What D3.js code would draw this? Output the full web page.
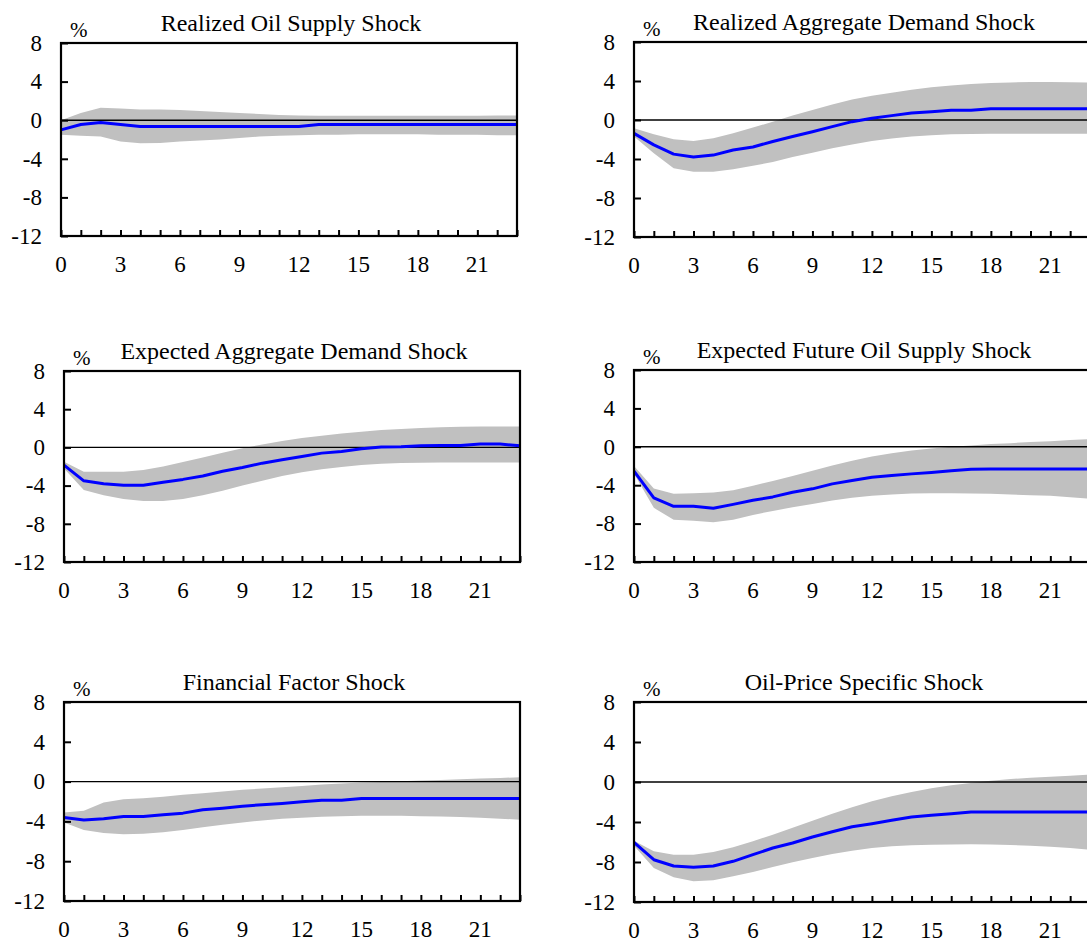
<!DOCTYPE html>
<html>
<head>
<meta charset="utf-8">
<script src="https://cdn.jsdelivr.net/npm/d3@7"></script>
<style>
  html, body { margin: 0; padding: 0; background: #fff; }
  svg { display: block; }
  text { font-family: "Liberation Serif", "Times New Roman", serif; fill: #000; }
</style>
</head>
<body>
<svg id="chart" width="1087" height="945"></svg>
<script>
// ---------- data ----------
const horizons = [0,1,2,3,4,5,6,7,8,9,10,11,12,13,14,15,16,17,18,19,20,21,22,23];
const xTickLabels = [0,3,6,9,12,15,18,21];
const yTickLabels = [8,4,0,-4,-8,-12];
const titles = [
  "Realized Oil Supply Shock",
  "Realized Aggregate Demand Shock",
  "Expected Aggregate Demand Shock",
  "Expected Future Oil Supply Shock",
  "Financial Factor Shock",
  "Oil-Price Specific Shock"
];

const oilSupplyIrf = [-1.0,-0.45,-0.25,-0.45,-0.65,-0.65,-0.65,-0.65,-0.65,-0.65,-0.65,-0.65,-0.65,-0.45,-0.45,-0.45,-0.45,-0.45,-0.45,-0.45,-0.45,-0.45,-0.45,-0.45];
const oilSupplyHi  = [0.0,0.75,1.3,1.2,1.1,1.1,1.05,0.95,0.85,0.75,0.65,0.55,0.5,0.47,0.45,0.45,0.45,0.45,0.45,0.45,0.45,0.47,0.5,0.5];
const oilSupplyLo  = [-1.5,-1.6,-1.7,-2.2,-2.4,-2.35,-2.2,-2.1,-2.0,-1.85,-1.7,-1.6,-1.55,-1.5,-1.5,-1.45,-1.45,-1.45,-1.45,-1.5,-1.5,-1.5,-1.55,-1.55];

const realDemandIrf = [-1.37,-2.55,-3.5,-3.8,-3.6,-3.07,-2.77,-2.2,-1.7,-1.2,-0.68,-0.17,0.17,0.45,0.72,0.85,1.0,1.0,1.15,1.15,1.15,1.15,1.15,1.15];
const realDemandHi  = [-0.85,-1.47,-1.98,-2.15,-1.88,-1.37,-0.78,-0.17,0.45,1.03,1.6,2.1,2.5,2.8,3.1,3.35,3.55,3.7,3.8,3.85,3.9,3.9,3.88,3.85];
const realDemandLo  = [-1.7,-3.4,-4.95,-5.3,-5.3,-5.05,-4.7,-4.3,-3.8,-3.35,-2.9,-2.5,-2.15,-1.9,-1.7,-1.57,-1.47,-1.43,-1.4,-1.4,-1.4,-1.4,-1.4,-1.4];

const expDemandIrf = [-1.85,-3.5,-3.8,-3.97,-3.97,-3.65,-3.35,-3.0,-2.5,-2.1,-1.65,-1.3,-0.95,-0.6,-0.42,-0.14,0.03,0.07,0.17,0.2,0.2,0.35,0.35,0.17];
const expDemandHi  = [-1.5,-2.55,-2.55,-2.55,-2.37,-2.0,-1.53,-1.05,-0.56,-0.1,0.31,0.66,0.98,1.22,1.46,1.64,1.81,1.92,2.02,2.1,2.16,2.2,2.2,2.2];
const expDemandLo  = [-2.2,-4.46,-5.0,-5.4,-5.6,-5.6,-5.4,-5.0,-4.53,-4.0,-3.48,-3.0,-2.61,-2.3,-2.05,-1.85,-1.7,-1.64,-1.6,-1.57,-1.57,-1.57,-1.57,-1.57];

const expSupplyIrf = [-2.54,-5.32,-6.2,-6.2,-6.4,-6.0,-5.57,-5.22,-4.73,-4.38,-3.86,-3.5,-3.17,-3.0,-2.82,-2.68,-2.5,-2.33,-2.3,-2.3,-2.3,-2.3,-2.3,-2.3];
const expSupplyHi  = [-2.0,-4.35,-4.9,-4.83,-4.76,-4.52,-4.07,-3.55,-3.03,-2.5,-1.95,-1.46,-1.0,-0.66,-0.38,-0.17,0.0,0.14,0.28,0.38,0.49,0.59,0.7,0.8];
const expSupplyLo  = [-2.8,-6.36,-7.6,-7.7,-7.86,-7.6,-7.1,-6.68,-6.3,-5.95,-5.6,-5.32,-5.11,-4.97,-4.87,-4.83,-4.83,-4.87,-4.9,-4.97,-5.04,-5.11,-5.25,-5.4];

const financialIrf = [-3.6,-3.87,-3.73,-3.5,-3.5,-3.33,-3.17,-2.83,-2.67,-2.47,-2.33,-2.2,-2.03,-1.87,-1.87,-1.7,-1.7,-1.7,-1.7,-1.7,-1.7,-1.7,-1.7,-1.7];
const financialHi  = [-3.1,-2.93,-2.1,-1.77,-1.67,-1.53,-1.33,-1.17,-1.0,-0.83,-0.7,-0.57,-0.43,-0.3,-0.2,-0.1,-0.03,0.03,0.1,0.17,0.23,0.3,0.37,0.43];
const financialLo  = [-4.1,-4.87,-5.17,-5.3,-5.23,-5.1,-4.87,-4.6,-4.33,-4.1,-3.9,-3.73,-3.63,-3.53,-3.47,-3.43,-3.43,-3.43,-3.47,-3.5,-3.57,-3.63,-3.73,-3.83];

const oilPriceIrf = [-6.03,-7.77,-8.4,-8.53,-8.4,-7.93,-7.27,-6.6,-6.1,-5.5,-4.97,-4.47,-4.17,-3.83,-3.5,-3.33,-3.17,-3.0,-3.0,-3.0,-3.0,-3.0,-3.0,-3.0];
const oilPriceHi  = [-5.87,-6.93,-7.27,-7.27,-7.0,-6.53,-5.93,-5.27,-4.57,-3.87,-3.17,-2.53,-1.93,-1.43,-1.0,-0.63,-0.33,-0.1,0.13,0.3,0.43,0.53,0.63,0.73];
const oilPriceLo  = [-6.37,-8.6,-9.53,-9.93,-9.83,-9.43,-9.0,-8.5,-8.03,-7.6,-7.2,-6.87,-6.6,-6.43,-6.33,-6.27,-6.25,-6.23,-6.25,-6.3,-6.37,-6.47,-6.6,-6.77];

const seriesIrf = [oilSupplyIrf, realDemandIrf, expDemandIrf, expSupplyIrf, financialIrf, oilPriceIrf];
const seriesHi  = [oilSupplyHi, realDemandHi, expDemandHi, expSupplyHi, financialHi, oilPriceHi];
const seriesLo  = [oilSupplyLo, realDemandLo, expDemandLo, expSupplyLo, financialLo, oilPriceLo];

// ---------- layout ----------
const layout = [
  {left: 61,  top: 43,  bottom: 236},
  {left: 634, top: 42,  bottom: 237},
  {left: 64,  top: 371, bottom: 562},
  {left: 634, top: 370, bottom: 562},
  {left: 64,  top: 702, bottom: 901},
  {left: 634, top: 702, bottom: 902}
];
const plotW = 456;

const svg = d3.select("#chart");

titles.forEach((title, i) => {
  const L = layout[i];
  const x = d3.scaleLinear().domain([0, 23]).range([L.left, L.left + plotW]);
  const y = d3.scaleLinear().domain([-12, 8]).range([L.bottom, L.top]);
  const data = horizons.map((h, k) => ({h, v: seriesIrf[i][k], lo: seriesLo[i][k], hi: seriesHi[i][k]}));
  const g = svg.append("g");

  g.append("path").datum(data)
    .attr("fill", "#c0c0c0")
    .attr("d", d3.area().x(d => x(d.h)).y0(d => y(d.lo)).y1(d => y(d.hi)));

  g.append("line")
    .attr("x1", x(0)).attr("x2", x(23))
    .attr("y1", y(0)).attr("y2", y(0))
    .attr("stroke", "#000").attr("stroke-width", 1.4);

  g.append("path").datum(data)
    .attr("fill", "none").attr("stroke", "#0000ff").attr("stroke-width", 3)
    .attr("stroke-linejoin", "round")
    .attr("d", d3.line().x(d => x(d.h)).y(d => y(d.v)));

  const yAxis = d3.axisRight(y).tickValues(yTickLabels).tickSize(7).tickFormat("");
  const ya = g.append("g").attr("transform", `translate(${L.left},0)`).call(yAxis);
  ya.select(".domain").remove();
  ya.selectAll(".tick line").attr("stroke", "#000").attr("stroke-width", 2);

  const xAxis = d3.axisTop(x).tickValues(horizons).tickSize(6).tickFormat("");
  const xa = g.append("g").attr("transform", `translate(0,${L.bottom})`).call(xAxis);
  xa.select(".domain").remove();
  xa.selectAll(".tick line").attr("stroke", "#000").attr("stroke-width", 2);

  g.append("rect")
    .attr("x", L.left).attr("y", L.top)
    .attr("width", plotW).attr("height", L.bottom - L.top)
    .attr("fill", "none").attr("stroke", "#000").attr("stroke-width", 2.2);

  g.selectAll(".ylab").data(yTickLabels).enter().append("text")
    .attr("x", L.left - 19).attr("y", d => y(d)).attr("dy", "0.34em")
    .attr("text-anchor", "end").attr("font-size", 23)
    .text(d => d);

  g.selectAll(".xlab").data(xTickLabels).enter().append("text")
    .attr("x", d => x(d)).attr("y", L.bottom + 36)
    .attr("text-anchor", "middle").attr("font-size", 23)
    .text(d => d);

  g.append("text").attr("x", L.left + 9).attr("y", L.top - 6)
    .attr("font-size", 21).text("%");

  g.append("text").attr("x", L.left + plotW / 2 + 2).attr("y", L.top - 12)
    .attr("text-anchor", "middle").attr("font-size", 24)
    .text(title);
});
</script>
</body>
</html>
